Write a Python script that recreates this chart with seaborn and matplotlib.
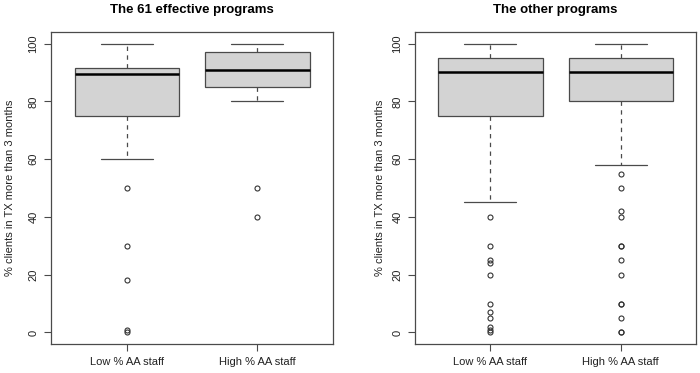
import pandas as pd
import matplotlib
matplotlib.use('Agg')
import matplotlib.pyplot as plt
import seaborn as sns

# Values per group (% clients in TX more than 3 months)
groups = ['Low % AA staff', 'High % AA staff']
titles = ['The 61 effective programs', 'The other programs']

eff_low = [0, 1, 18, 30, 50, 60, 65, 70, 72, 74, 75, 78, 80, 80, 82, 85, 85, 87, 88, 89,
           89.5, 90, 90, 90, 90, 91, 91, 91, 91, 91, 91.5, 92, 93, 95, 95, 96, 97, 98, 99,
           100, 100]
eff_high = [40, 50, 80, 83, 85, 85, 87, 88, 90, 91, 91, 92, 94, 95, 97, 97, 98, 100, 100, 100]

other_low = [0, 1, 2, 5, 7, 10, 20, 24, 25, 30, 40, 45, 50, 60, 70, 75,
             76, 78, 80, 80, 80, 82, 85, 85, 85, 86, 88, 88, 89, 90, 90,
             90, 90, 90, 90, 91, 91, 92, 92, 92, 93, 93, 94, 95, 95, 95,
             95, 95, 96, 96, 97, 97, 98, 98, 99, 100, 100, 100, 100, 100, 100]
other_high = [0, 0, 5, 10, 10, 20, 25, 30, 30, 40, 42, 50, 55, 58, 70, 80,
              80, 80, 82, 83, 85, 85, 85, 86, 87, 88, 88, 89, 90, 90, 90,
              90, 90, 91, 91, 92, 92, 93, 93, 94, 94, 95, 95, 95, 95, 95,
              95, 96, 96, 97, 97, 98, 98, 99, 99, 100, 100, 100, 100, 100, 100]

yticks = [0, 20, 40, 60, 80, 100]
ylabel = '% clients in TX more than 3 months'

sns.set_theme(style='ticks')
plt.rcParams['font.family'] = ['Liberation Sans', 'DejaVu Sans']

edge = '#4a4a4a'
txt = '#222222'

fig = plt.figure(figsize=(7, 3.73), dpi=100)
axes = [fig.add_axes([0.0729, 0.0777, 0.4029, 0.8365]),
        fig.add_axes([0.5929, 0.0777, 0.4014, 0.8365])]

panels = [(eff_low, eff_high), (other_low, other_high)]
label_x = [-0.129, -0.107]

for ax, (low, high), title, lx in zip(axes, panels, titles, label_x):
    df = pd.DataFrame({
        'group': [groups[0]] * len(low) + [groups[1]] * len(high),
        'value': low + high,
    })
    sns.boxplot(data=df, x='group', y='value', order=groups, ax=ax,
                color='#d3d3d3', saturation=1, linecolor=edge, linewidth=0.9,
                width=0.8, whis=1.5,
                medianprops={'color': 'black', 'linewidth': 1.8},
                whiskerprops={'linestyle': (0, (3.5, 3.5)), 'color': edge},
                capprops={'color': edge},
                flierprops={'marker': 'o', 'markersize': 3.6, 'markerfacecolor': 'none',
                            'markeredgecolor': '#333333', 'markeredgewidth': 0.8})
    ax.set_xlim(-0.58, 1.58)
    ax.set_ylim(-4, 104)
    ax.set_yticks(yticks)
    ax.set_yticklabels([str(t) for t in yticks], rotation=90, va='center')
    ax.set_xlabel('')
    ax.set_ylabel(ylabel, fontsize=8, color=txt)
    ax.yaxis.set_label_coords(lx, 0.5)
    ax.set_title(title, fontsize=9.5, fontweight='bold', color='black', pad=14)
    ax.tick_params(axis='both', labelsize=8, length=5, width=0.8, color=edge,
                   labelcolor=txt, pad=4)
    for s in ax.spines.values():
        s.set_visible(True)
        s.set_color(edge)
        s.set_linewidth(0.9)

fig.savefig('out.png', dpi=100)
